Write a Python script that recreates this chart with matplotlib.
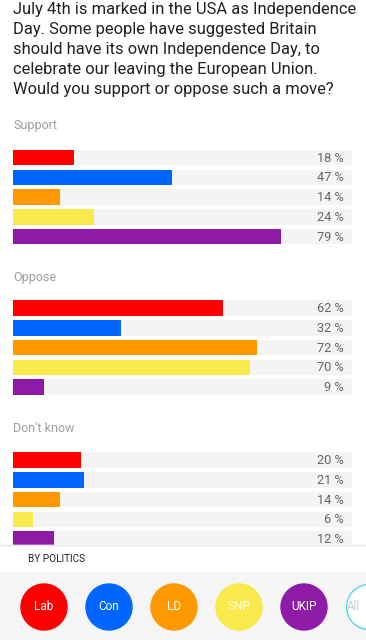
import matplotlib.pyplot as plt
from matplotlib.patches import Circle, Rectangle

plt.rcParams['font.family'] = ['Roboto', 'DejaVu Sans']

title = ("July 4th is marked in the USA as Independence\n"
         "Day. Some people have suggested Britain\n"
         "should have its own Independence Day, to\n"
         "celebrate our leaving the European Union.\n"
         "Would you support or oppose such a move?")

parties = ['Lab', 'Con', 'LD', 'SNP', 'UKIP']
colors = ['#ff0000', '#0066ff', '#ff9900', '#f9e94a', '#8e1aa8']
sections = ['Support', 'Oppose', "Don't know"]
support = [18, 47, 14, 24, 79]
oppose = [62, 32, 72, 70, 9]
dont_know = [20, 21, 14, 6, 12]

fig = plt.figure(figsize=(3.66, 6.4), dpi=100)
ax = fig.add_axes([0, 0, 1, 1])
ax.set_xlim(0, 366)
ax.set_ylim(640, 0)
ax.axis('off')

ax.text(13, 2, title, fontsize=11.9, color='#212121', va='top', ha='left',
        linespacing=1.42)

# x of 0% and scale per percent
x0 = 13
px = 3.39
label_y = [126, 277, 429]
first_row = [157.5, 308, 460]
step = 19.8

for s, vals in enumerate([support, oppose, dont_know]):
    ax.text(x0, label_y[s], sections[s], fontsize=9, color='#9e9e9e',
            va='center', ha='left')
    ys = [first_row[s] + i * step for i in range(len(vals))]
    ax.barh(ys, [100 * px] * len(vals), left=x0, height=15.5,
            color='#f4f4f4', zorder=1)
    ax.barh(ys, [v * px for v in vals], left=x0, height=15.5,
            color=colors, zorder=2)
    for y, v in zip(ys, vals):
        ax.text(344, y + 0.5, f'{v} %', fontsize=9.2, color='#666666',
                ha='right', va='center', zorder=3)

# bottom party selector
ax.add_patch(Rectangle((0, 545), 366, 27, color='white', zorder=5))
ax.plot([0, 366], [545, 545], color='#e8e8e8', lw=1, zorder=6)
ax.text(28, 559, 'BY POLITICS', fontsize=7.2, color='#212121',
        va='center', ha='left', zorder=6)
ax.add_patch(Rectangle((0, 572), 366, 68, color='#f5f5f5', zorder=5))

for i, (p, c) in enumerate(zip(parties, colors)):
    cx = 44 + i * 65
    ax.add_patch(Circle((cx, 607), 23, color=c, zorder=6))
    ax.text(cx, 607, p, fontsize=8.5, color='white', ha='center',
            va='center', zorder=7)
ax.add_patch(Circle((369, 607), 22.5, facecolor='white', edgecolor='#4fdbe8',
                    lw=1, zorder=6))
ax.text(347, 607, 'All', fontsize=8.5, color='#cccccc', ha='left',
        va='center', zorder=7, clip_on=True)

fig.savefig('out.png', dpi=100)
